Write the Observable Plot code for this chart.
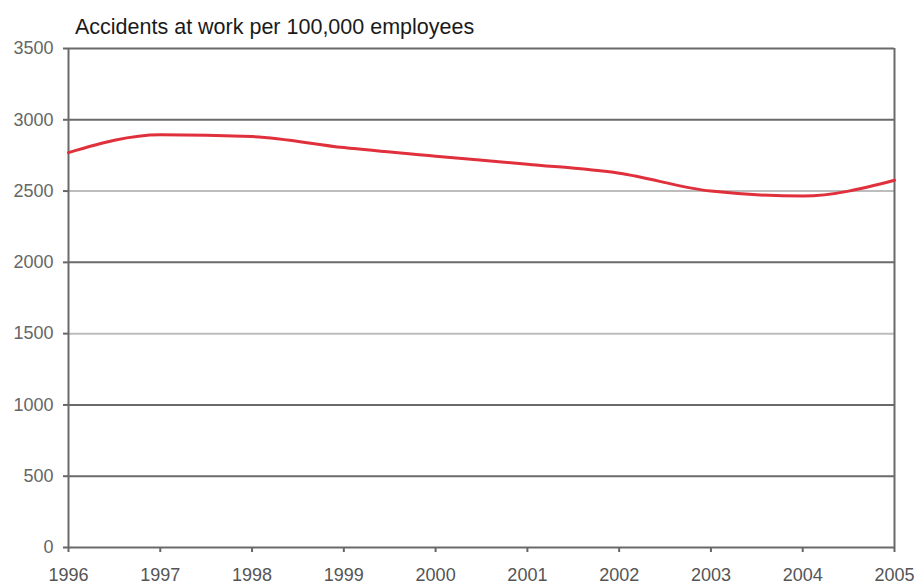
<!DOCTYPE html>
<html>
<head>
<meta charset="utf-8">
<script src="https://cdn.jsdelivr.net/npm/d3@7"></script>
<script src="https://cdn.jsdelivr.net/npm/@observablehq/plot@0.6"></script>
<style>
  html, body { margin: 0; padding: 0; background: #fff; }
  #wrap { position: relative; width: 920px; height: 585px; }
  #title { position: absolute; left: 75px; top: 15px; font-family: "Liberation Sans", Arial, sans-serif; font-size: 21.5px; color: #1a1a1a; line-height: 24px; white-space: nowrap; }
  #chart svg { display: block; }
</style>
</head>
<body>
<div id="wrap">
<div id="chart"></div>
<div id="title">Accidents at work per 100,000 employees</div>
</div>
<script>
const years = [1996, 1997, 1998, 1999, 2000, 2001, 2002, 2003, 2004, 2005];
const accidents = [2770, 2895, 2882, 2805, 2745, 2688, 2625, 2500, 2465, 2576];
const yTicks = [0, 500, 1000, 1500, 2000, 2500, 3000, 3500];
const darkGrid = [500, 1000, 2000, 3000, 3500];
const lightGrid = [1500, 2500];

const data = years.map((y, i) => ({year: y, value: accidents[i]}));

const chart = Plot.plot({
  width: 920,
  height: 585,
  marginLeft: 68,
  marginRight: 26,
  marginTop: 48,
  marginBottom: 38,
  style: {fontFamily: "'Liberation Sans', Arial, sans-serif", fontSize: "18px", color: "#555", background: "#fff"},
  x: {domain: [1996, 2005], label: null},
  y: {domain: [0, 3500], label: null},
  marks: [
    Plot.ruleY(lightGrid, {stroke: "#bdbdbd", strokeWidth: 2}),
    Plot.ruleY(darkGrid, {stroke: "#6a6a6a", strokeWidth: 2}),
    Plot.ruleX([2005], {stroke: "#6a6a6a", strokeWidth: 2}),
    Plot.axisX({ticks: years, tickFormat: d => String(d), tickSize: 5, tickPadding: 16, stroke: "#666", strokeWidth: 2, fill: "#555", label: null}),
    Plot.axisY({ticks: yTicks, tickFormat: d => String(d), tickSize: 5, tickPadding: 10, stroke: "#666", strokeWidth: 2, fill: "#666", label: null}),
    Plot.ruleY([0], {stroke: "#6a6a6a", strokeWidth: 2}),
    Plot.ruleX([1996], {stroke: "#6a6a6a", strokeWidth: 2}),
    Plot.line(data, {x: "year", y: "value", stroke: "#e0303c", strokeWidth: 3, curve: "monotone-x"})
  ]
});
document.getElementById("chart").appendChild(chart);
</script>
</body>
</html>
